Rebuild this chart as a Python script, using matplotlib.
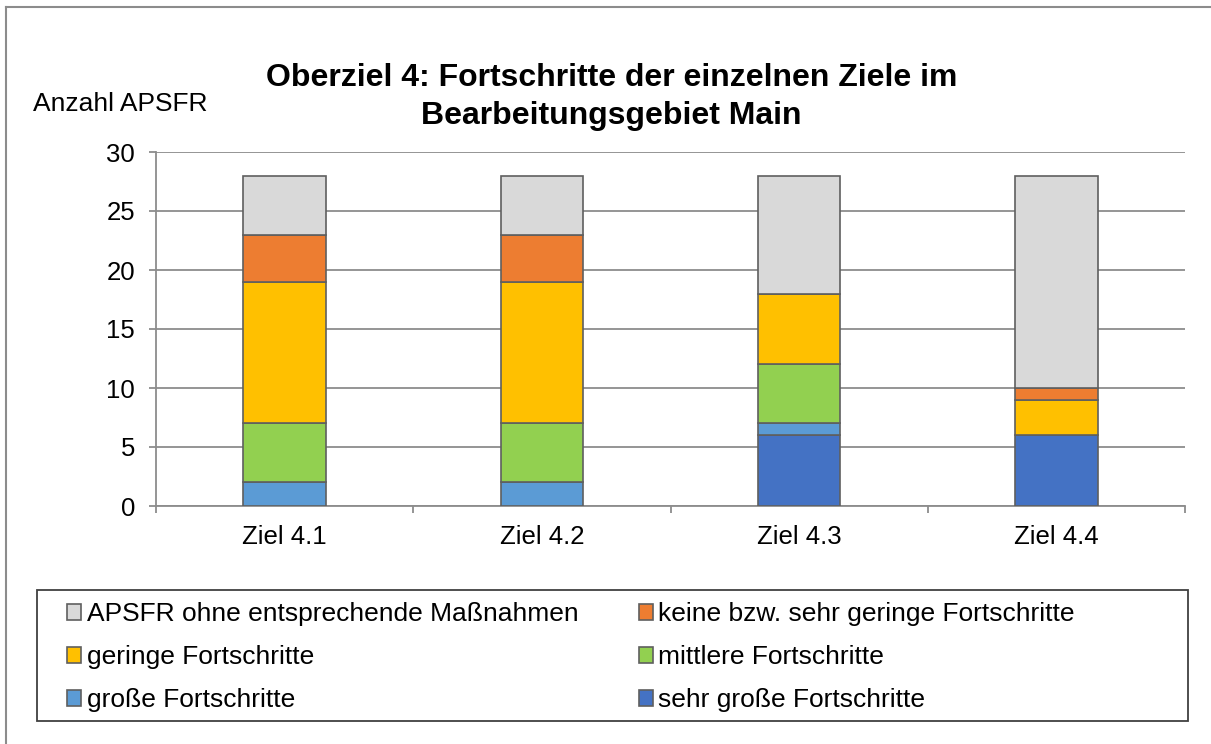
import matplotlib
matplotlib.use("Agg")
import matplotlib.pyplot as plt
from matplotlib.patches import Rectangle
from matplotlib.lines import Line2D
import numpy as np

plt.rcParams['font.family'] = ['Liberation Sans', 'DejaVu Sans']

# ---- Data ----
categories = ["Ziel 4.1", "Ziel 4.2", "Ziel 4.3", "Ziel 4.4"]
sehr_gross = [0, 0, 6, 6]
gross = [2, 2, 1, 0]
mittlere = [5, 5, 5, 0]
geringe = [12, 12, 6, 3]
keine = [4, 4, 0, 1]
ohne = [5, 5, 10, 18]

series_names = ["sehr große Fortschritte", "große Fortschritte", "mittlere Fortschritte",
                "geringe Fortschritte", "keine bzw. sehr geringe Fortschritte",
                "APSFR ohne entsprechende Maßnahmen"]
series_values = [sehr_gross, gross, mittlere, geringe, keine, ohne]
colors = ["#4472C4", "#5B9BD5", "#92D050", "#FFC000", "#ED7D31", "#D9D9D9"]

W, H = 1211, 744
fig = plt.figure(figsize=(W / 100, H / 100), dpi=100)
ax = fig.add_axes([156 / W, 1 - 506 / H, (1185 - 156) / W, (506 - 152) / H])

# ---- Bars ----
x = np.arange(len(categories))
bottom = np.zeros(len(categories))
handles = {}
for name, vals, col in zip(series_names, series_values, colors):
    b = ax.bar(x, vals, width=0.32, bottom=bottom, color=col,
               edgecolor="#5f5f5f", linewidth=1.2, zorder=3, label=name)
    handles[name] = b
    bottom += np.array(vals)

# ---- Axes styling ----
ax.set_xlim(-0.5, len(categories) - 0.5)
ax.set_ylim(0, 30)
ax.set_yticks(range(0, 31, 5))
ax.yaxis.grid(True, color="#8c8c8c", linewidth=1.3, zorder=0)
ax.set_axisbelow(True)
for s in ["top", "right"]:
    ax.spines[s].set_visible(False)
for s in ["left", "bottom"]:
    ax.spines[s].set_color("#8c8c8c")
    ax.spines[s].set_linewidth(1.3)

ax.set_xticks(x)
ax.set_xticklabels(categories, fontsize=18.5)
ax.set_xticks(np.arange(-0.5, len(categories)), minor=True)
ax.tick_params(axis="x", which="major", length=0, pad=14)
ax.tick_params(axis="x", which="minor", length=5, width=1.3, color="#8c8c8c")
ax.tick_params(axis="y", length=5, width=1.3, color="#8c8c8c", labelsize=18.5, pad=10)

# ---- Titles ----
fig.text(0.505, 1 - 97 / H, "Oberziel 4: Fortschritte der einzelnen Ziele im\nBearbeitungsgebiet Main",
         ha="center", va="center", fontsize=23, fontweight="bold", linespacing=1.33)
fig.text(33 / W, 1 - 104 / H, "Anzahl APSFR", ha="left", va="center", fontsize=19)

# ---- Legend ----
order = ["APSFR ohne entsprechende Maßnahmen", "geringe Fortschritte", "große Fortschritte",
         "keine bzw. sehr geringe Fortschritte", "mittlere Fortschritte", "sehr große Fortschritte"]
leg = fig.legend([handles[n] for n in order], order, loc="upper left", ncol=2,
                 bbox_to_anchor=(54 / W, 1 - 589 / H), frameon=False, fontsize=19,
                 handlelength=0.53, handleheight=0.53, handletextpad=0.22,
                 columnspacing=2.27, labelspacing=0.72, borderpad=0)
fig.patches.append(Rectangle((37 / W, 1 - 721 / H), (1188 - 37) / W, (721 - 590) / H,
                             transform=fig.transFigure, fill=False, edgecolor="#404040",
                             linewidth=1.3))

# ---- outer chart border (left and top visible) ----
fig.lines.append(Line2D([6 / W, 6 / W], [0, 1 - 7 / H], transform=fig.transFigure,
                        color="#8c8c8c", linewidth=1.5))
fig.lines.append(Line2D([6 / W, 1], [1 - 7 / H, 1 - 7 / H], transform=fig.transFigure,
                        color="#8c8c8c", linewidth=1.5))

fig.savefig("out.png", dpi=100)
